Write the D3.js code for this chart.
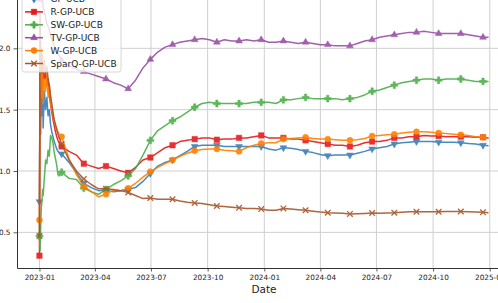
<!DOCTYPE html>
<html>
<head>
<meta charset="utf-8">
<script src="https://cdn.jsdelivr.net/npm/d3@7"></script>
<style>
body { margin: 0; background: #fff; }
svg { display: block; font-family: "DejaVu Sans", sans-serif; }
</style>
</head>
<body>
<svg width="498" height="303"></svg>
<script>
// days since 2023-01-01
const days = [0, 1, 2, 3, 4, 5, 6, 8, 10, 12, 14, 16, 18, 20, 22, 24, 26, 28, 30, 32, 34, 36,
  48, 60, 72, 84, 96, 108, 120, 132, 144, 156,
  168, 180, 192, 204, 216, 228, 240, 252, 264, 276,
  288, 300, 312, 324, 336, 348, 360, 372, 384, 396,
  408, 420, 432, 444, 456, 468, 480, 492, 504, 516,
  528, 540, 552, 564, 576, 588, 600, 612, 624, 636,
  648, 660, 672, 684, 696, 708, 720, 729];

const gpUcb = [0.75, 1.8, 1.3, 1.75, 1.45, 1.7, 1.35, 1.65, 1.5, 1.6, 1.45, 1.5, 1.38, 1.32, 1.28, 1.24, 1.21, 1.18, 1.16, 1.15, 1.14, 1.14,
  1.07, 0.985, 0.90, 0.865, 0.84, 0.845, 0.83, 0.84, 0.85, 0.865,
  0.915, 0.98, 1.04, 1.07, 1.09, 1.125, 1.16, 1.20, 1.21, 1.21,
  1.21, 1.20, 1.20, 1.20, 1.20, 1.20, 1.20, 1.18, 1.17, 1.19,
  1.185, 1.175, 1.16, 1.15, 1.135, 1.125, 1.13, 1.13, 1.13, 1.145,
  1.16, 1.18, 1.19, 1.20, 1.22, 1.23, 1.235, 1.24, 1.24, 1.24,
  1.235, 1.235, 1.235, 1.23, 1.225, 1.22, 1.21, 1.205];

const rGpUcb = [0.31, 2.2, 1.9, 1.75, 1.95, 1.7, 1.85, 1.75, 1.8, 1.7, 1.75, 1.62, 1.55, 1.48, 1.42, 1.37, 1.32, 1.28, 1.25, 1.23, 1.21, 1.20,
  1.16, 1.13, 1.06, 1.04, 1.02, 1.04, 1.02, 1.00, 0.985, 1.03,
  1.09, 1.11, 1.15, 1.19, 1.21, 1.24, 1.25, 1.26, 1.27, 1.27,
  1.255, 1.26, 1.26, 1.27, 1.27, 1.28, 1.29, 1.27, 1.27, 1.27,
  1.26, 1.26, 1.25, 1.24, 1.23, 1.22, 1.21, 1.21, 1.20, 1.21,
  1.23, 1.24, 1.24, 1.25, 1.27, 1.27, 1.28, 1.28, 1.29, 1.285,
  1.285, 1.28, 1.28, 1.28, 1.28, 1.275, 1.275, 1.27];

const swGpUcb = [0.47, 0.35, 0.55, 0.70, 0.75, 0.85, 0.80, 0.95, 1.09, 1.06, 1.17, 1.12, 1.29, 1.27, 1.23, 1.15, 1.10, 1.05, 0.97, 0.96, 0.99, 0.99,
  0.94, 0.93, 0.86, 0.83, 0.81, 0.85, 0.89, 0.92, 0.96, 1.02,
  1.13, 1.25, 1.33, 1.37, 1.41, 1.44, 1.48, 1.52, 1.55, 1.56,
  1.55, 1.55, 1.55, 1.55, 1.55, 1.56, 1.56, 1.56, 1.55, 1.58,
  1.58, 1.59, 1.60, 1.59, 1.59, 1.59, 1.59, 1.58, 1.59, 1.60,
  1.62, 1.65, 1.66, 1.68, 1.70, 1.72, 1.73, 1.74, 1.75, 1.75,
  1.74, 1.75, 1.75, 1.75, 1.74, 1.73, 1.73, 1.73];

const tvGpUcb = [2.4, 2.5, 2.45, 2.42, 2.38, 2.4, 2.33, 2.3, 2.25, 2.2, 2.18, 2.15, 2.1, 2.08, 2.05, 2.02, 2.0, 1.98, 1.96, 1.94, 1.92, 1.9,
  1.86, 1.83, 1.81, 1.79, 1.77, 1.75, 1.72, 1.70, 1.67, 1.74,
  1.84, 1.91, 1.97, 2.01, 2.03, 2.05, 2.06, 2.07, 2.08, 2.07,
  2.05, 2.07, 2.06, 2.06, 2.07, 2.06, 2.07, 2.05, 2.05, 2.06,
  2.05, 2.04, 2.05, 2.04, 2.03, 2.03, 2.02, 2.02, 2.02, 2.04,
  2.06, 2.07, 2.09, 2.10, 2.11, 2.12, 2.13, 2.13, 2.14, 2.13,
  2.12, 2.12, 2.12, 2.12, 2.11, 2.10, 2.09, 2.09];

const wGpUcb = [0.6, 2.1, 1.7, 1.85, 1.6, 1.8, 1.55, 1.75, 1.65, 1.78, 1.6, 1.7, 1.55, 1.5, 1.45, 1.4, 1.37, 1.34, 1.32, 1.3, 1.29, 1.28,
  1.10, 0.97, 0.875, 0.835, 0.79, 0.81, 0.845, 0.84, 0.86, 0.90,
  0.95, 0.995, 1.03, 1.06, 1.09, 1.12, 1.145, 1.165, 1.175, 1.18,
  1.18, 1.17, 1.165, 1.16, 1.19, 1.21, 1.225, 1.23, 1.23, 1.26,
  1.265, 1.27, 1.275, 1.265, 1.26, 1.26, 1.255, 1.25, 1.25, 1.255,
  1.265, 1.285, 1.29, 1.295, 1.30, 1.31, 1.315, 1.32, 1.32, 1.315,
  1.31, 1.305, 1.30, 1.295, 1.29, 1.28, 1.275, 1.265];

const sparqGpUcb = [0.47, 2.3, 1.9, 2.0, 1.8, 1.9, 1.85, 1.9, 1.8, 1.85, 1.75, 1.7, 1.62, 1.55, 1.48, 1.42, 1.38, 1.34, 1.3, 1.27, 1.25, 1.22,
  1.09, 1.00, 0.935, 0.89, 0.855, 0.855, 0.85, 0.84, 0.825, 0.80,
  0.775, 0.78, 0.77, 0.77, 0.77, 0.755, 0.745, 0.74, 0.735, 0.725,
  0.715, 0.71, 0.705, 0.70, 0.695, 0.695, 0.69, 0.68, 0.68, 0.695,
  0.69, 0.685, 0.68, 0.672, 0.665, 0.66, 0.657, 0.655, 0.65, 0.652,
  0.654, 0.657, 0.656, 0.658, 0.66, 0.664, 0.667, 0.668, 0.668, 0.668,
  0.668, 0.67, 0.67, 0.67, 0.668, 0.665, 0.663, 0.66];

const names = ['GP-UCB', 'R-GP-UCB', 'SW-GP-UCB', 'TV-GP-UCB', 'W-GP-UCB', 'SparQ-GP-UCB'];
const colors = ['#377eb8', '#e41a1c', '#4daf4a', '#984ea3', '#ff7f00', '#a65628'];
const markers = ['v', 's', 'P', '^', 'o', 'x'];
const values = [gpUcb, rGpUcb, swGpUcb, tvGpUcb, wGpUcb, sparqGpUcb];
const yTicks = [0.5, 1.0, 1.5, 2.0];

const DAY = 864e5;
const start = Date.UTC(2023, 0, 1);
const toDate = d => new Date(start + d * DAY);
const span = days[days.length - 1] - days[0];

const plotLeft = 17, plotRight = 511, plotTop = -14, plotBottom = 268;

const svg = d3.select('svg');

const x = d3.scaleUtc()
  .domain([toDate(-0.05 * span), toDate(days[days.length - 1] + 0.05 * span)])
  .range([plotLeft, plotRight]);
const y = d3.scaleLinear()
  .domain([0.2095, 2.508])
  .range([plotBottom, plotTop]);

const xTicks = x.ticks(d3.utcMonth.every(3));

// grid
svg.append('g')
  .selectAll('line')
  .data(xTicks)
  .enter().append('line')
    .attr('x1', d => x(d)).attr('x2', d => x(d))
    .attr('y1', plotTop).attr('y2', plotBottom)
    .attr('stroke', '#cfcfcf').attr('stroke-width', 1);
svg.append('g')
  .selectAll('line')
  .data(yTicks)
  .enter().append('line')
    .attr('x1', plotLeft).attr('x2', plotRight)
    .attr('y1', d => y(d)).attr('y2', d => y(d))
    .attr('stroke', '#cfcfcf').attr('stroke-width', 1);

svg.append('clipPath').attr('id', 'plot')
  .append('rect')
    .attr('x', plotLeft).attr('y', plotTop)
    .attr('width', plotRight - plotLeft).attr('height', plotBottom - plotTop);

function markerPath(m) {
  if (m === 's') return d3.symbol(d3.symbolSquare, 30)();
  if (m === 'o') return d3.symbol(d3.symbolCircle, 28)();
  if (m === 'P') return d3.symbol(d3.symbolCross, 26)();
  if (m === '^' || m === 'v') return d3.symbol(d3.symbolTriangle, 20)();
  return 'M-2.8,-2.8L2.8,2.8M-2.8,2.8L2.8,-2.8';
}

function drawMarker(sel, m, color) {
  sel.attr('d', markerPath(m))
    .attr('fill', m === 'x' ? 'none' : color)
    .attr('stroke', color)
    .attr('stroke-width', m === 'x' ? 1.3 : 0.5);
}

const line = d3.line()
  .x(d => x(toDate(d.day)))
  .y(d => y(d.v));

const plot = svg.append('g').attr('clip-path', 'url(#plot)');

values.forEach((vals, i) => {
  const pts = days.map((d, j) => ({day: d, v: vals[j]}));
  const g = plot.append('g').attr('opacity', 0.9);
  g.append('path')
    .datum(pts)
    .attr('d', line)
    .attr('fill', 'none')
    .attr('stroke', colors[i])
    .attr('stroke-width', 1.5)
    .attr('stroke-linejoin', 'round');
  g.selectAll('path.mk')
    .data(pts.filter(p => p.day % 36 === 0))
    .enter().append('path')
      .attr('class', 'mk')
      .attr('transform', p => `translate(${x(toDate(p.day))},${y(p.v)})` + (markers[i] === 'v' ? ' rotate(180)' : ''))
      .call(drawMarker, markers[i], colors[i]);
});

// axes
const xAxis = svg.append('g')
  .attr('transform', `translate(0,${plotBottom})`)
  .call(d3.axisBottom(x).tickValues(xTicks).tickFormat(d3.utcFormat('%Y-%m'))
    .tickSize(3.5).tickPadding(3).tickSizeOuter(0));
const yAxis = svg.append('g')
  .attr('transform', `translate(${plotLeft},0)`)
  .call(d3.axisLeft(y).tickValues(yTicks).tickFormat(d3.format('.1f'))
    .tickSize(3.5).tickPadding(3).tickSizeOuter(0));

[xAxis, yAxis].forEach(a => {
  a.attr('font-family', '"DejaVu Sans", sans-serif').attr('font-size', 7.3);
  a.selectAll('.domain').attr('stroke', '#333').attr('stroke-width', 1);
  a.selectAll('.tick line').attr('stroke', '#333').attr('stroke-width', 0.8);
  a.selectAll('.tick text').attr('fill', '#222');
});

svg.append('text')
  .attr('x', (plotLeft + plotRight) / 2)
  .attr('y', 293)
  .attr('text-anchor', 'middle')
  .attr('font-size', 10.5)
  .attr('fill', '#222')
  .text('Date');

// legend
const legend = svg.append('g');
legend.append('rect')
  .attr('x', 22).attr('y', -11)
  .attr('width', 99).attr('height', 83)
  .attr('rx', 2.5)
  .attr('fill', '#fff').attr('fill-opacity', 0.8)
  .attr('stroke', '#cccccc').attr('stroke-width', 0.8);

names.forEach((name, i) => {
  const cy = -1 + i * 12.9;
  const row = legend.append('g');
  row.append('line')
    .attr('x1', 25).attr('x2', 43)
    .attr('y1', cy).attr('y2', cy)
    .attr('stroke', colors[i]).attr('stroke-width', 1.5);
  row.append('path')
    .attr('transform', `translate(34,${cy})` + (markers[i] === 'v' ? ' rotate(180)' : ''))
    .call(drawMarker, markers[i], colors[i]);
  row.append('text')
    .attr('x', 50.5).attr('y', cy)
    .attr('dy', '0.35em')
    .attr('font-size', 9)
    .attr('fill', '#222')
    .text(name);
});
</script>
</body>
</html>
